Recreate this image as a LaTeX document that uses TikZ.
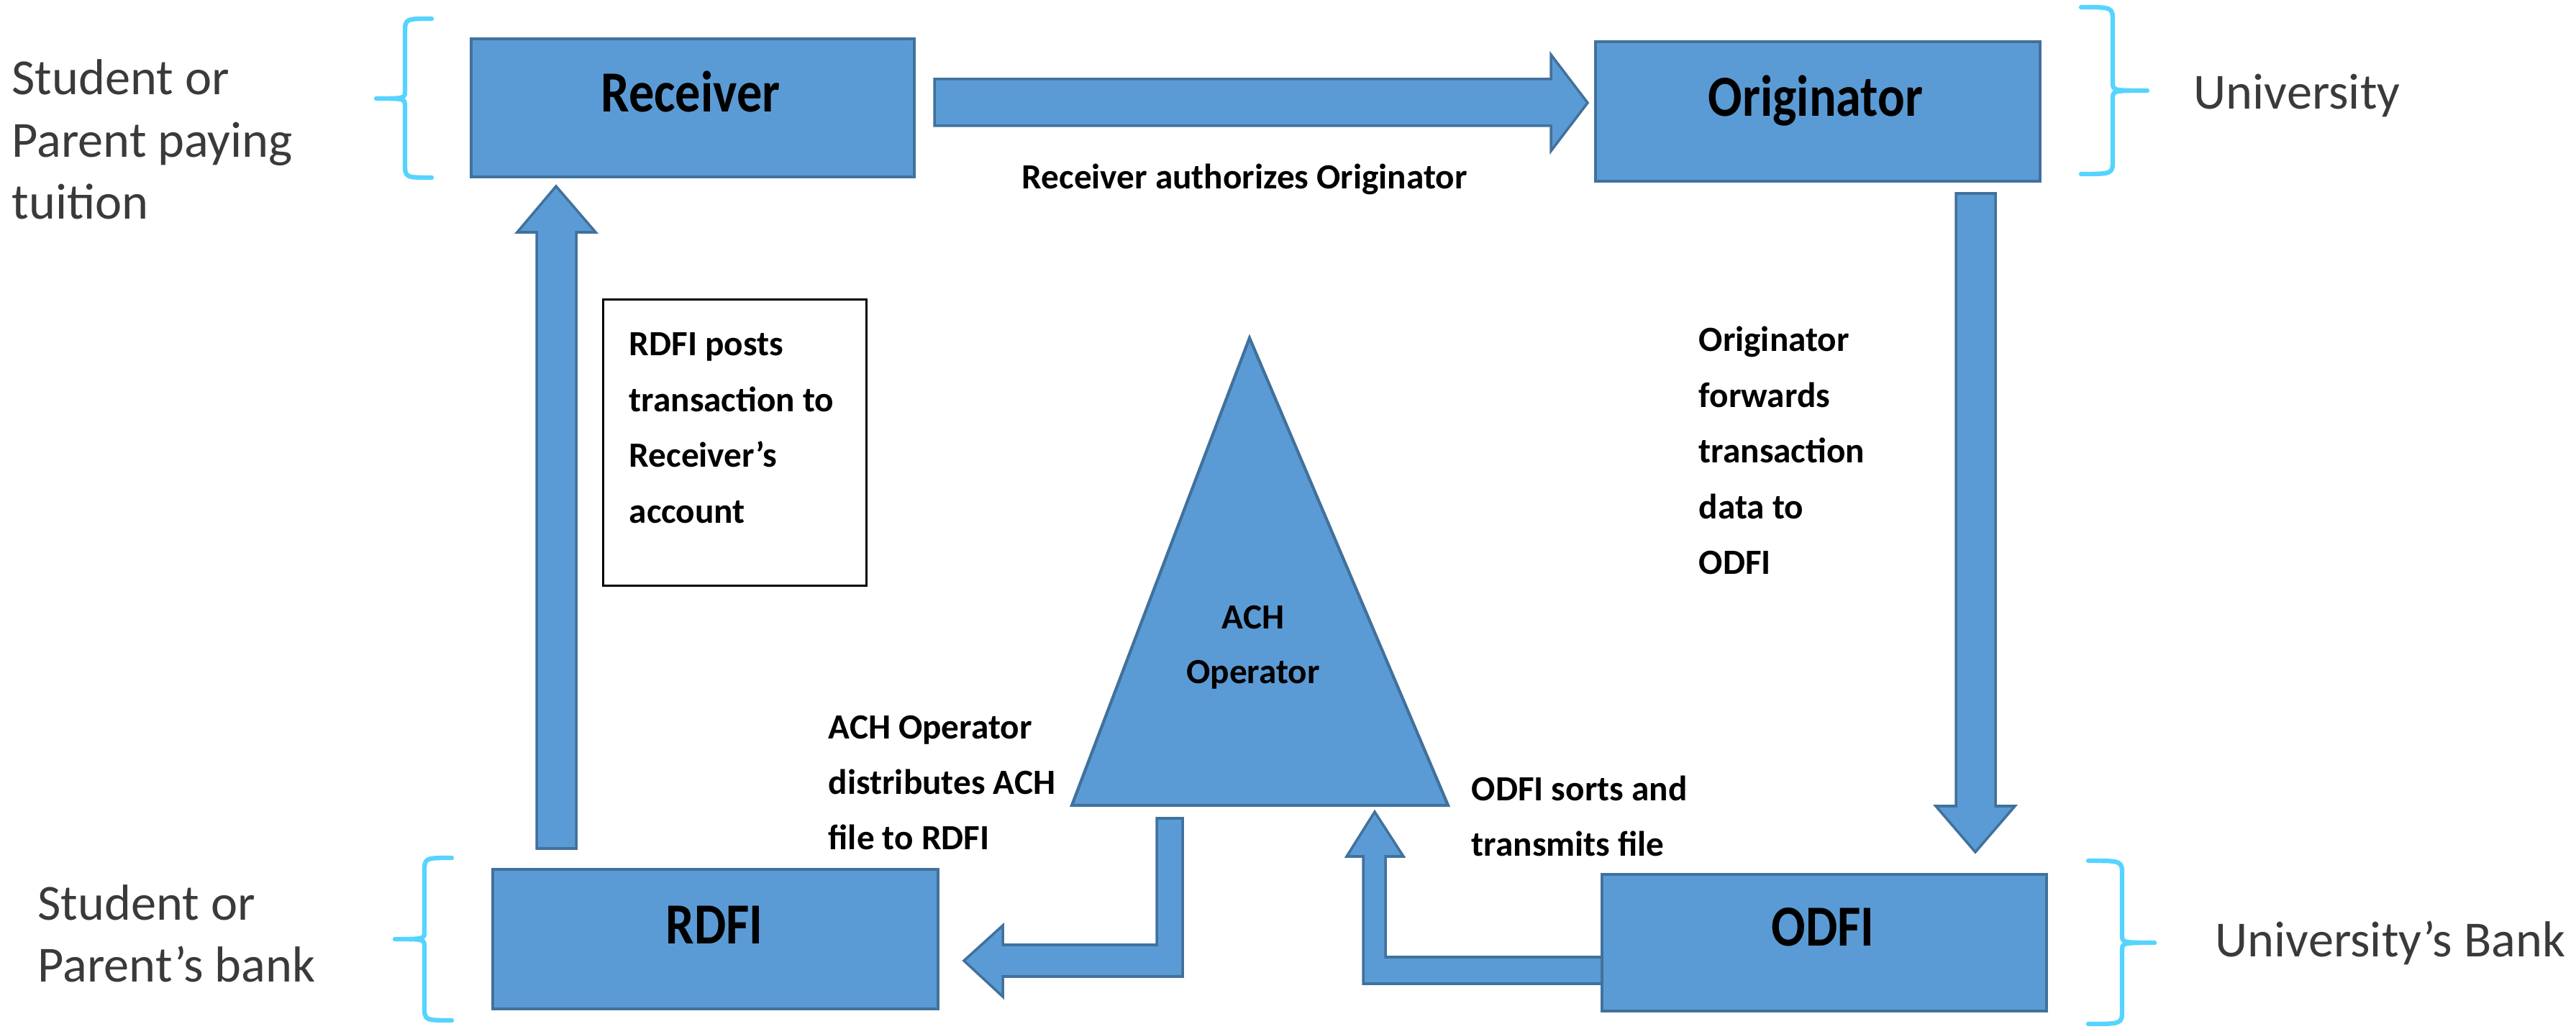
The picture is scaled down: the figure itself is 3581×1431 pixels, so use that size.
\documentclass[tikz,border=0pt]{standalone}
\usepackage{fontspec}
\setmainfont{Carlito}
\definecolor{boxfill}{HTML}{5B9BD5}
\definecolor{boxedge}{HTML}{41719C}
\definecolor{bracec}{HTML}{55D4FF}
\definecolor{sidec}{HTML}{3A3A3A}
\newcommand\mlines[2][l]{\begin{tabular}[t]{@{}#1@{}}#2\end{tabular}}
\begin{document}
\begin{tikzpicture}[x=0.01cm,y=-0.01cm,
  bluebox/.style={draw=boxedge, fill=boxfill, line width=1.2pt, inner sep=0pt},
  blockarrow/.style={draw=boxedge, fill=boxfill, line width=1pt, line join=miter},
  bracestyle/.style={draw=bracec, line width=1.8pt, line cap=round, line join=round},
  sidelbl/.style={font=\fontsize{20pt}{24.5pt}\selectfont, text=sidec, inner sep=0pt, anchor=base west},
  steplbl/.style={font=\fontsize{14pt}{22pt}\selectfont\bfseries, inner sep=0pt, anchor=base west},
  boxlbl/.style={font=\fontsize{20pt}{24pt}\selectfont\bfseries, inner sep=0pt, anchor=base}]
\useasboundingbox (0,0) rectangle (3581,1431);

% block arrows (drawn first, boxes on top)
\draw[blockarrow] (1299,110) -- (2156,110) -- (2156,76) -- (2207,143) -- (2156,210) -- (2156,175) -- (1299,175) -- cycle;
\draw[blockarrow] (2719,269) -- (2774,269) -- (2774,1121) -- (2801,1121) -- (2746,1185) -- (2691,1121) -- (2719,1121) -- cycle;
\draw[blockarrow] (746,1180) -- (746,323) -- (719,323) -- (773,259) -- (828,323) -- (801,323) -- (801,1180) -- cycle;
\draw[blockarrow] (1608,1138) -- (1644,1138) -- (1644,1358) -- (1394,1358) -- (1394,1386) -- (1340,1336) -- (1394,1287) -- (1394,1314) -- (1608,1314) -- cycle;
\draw[blockarrow] (2227,1331) -- (2227,1368) -- (1895,1368) -- (1895,1191) -- (1872,1191) -- (1911,1129) -- (1951,1191) -- (1926,1191) -- (1926,1331) -- cycle;

% triangle
\coordinate (apex) at (1737,470);
\coordinate (bl) at (1490,1120);
\coordinate (br) at (2013,1120);
\draw[bluebox] (apex) -- (br) -- (bl) -- cycle;
\node[font=\fontsize{14pt}{21.6pt}\selectfont\bfseries, inner sep=0pt, anchor=base] (ach) at (1742,875) {\mlines[c]{ACH\\Operator}};

% boxes
\node[bluebox, minimum width=6.16cm, minimum height=1.92cm] (rec) at (963,150) {};
\node[bluebox, minimum width=6.18cm, minimum height=1.94cm] (orig) at (2527,155) {};
\node[bluebox, minimum width=6.19cm, minimum height=1.94cm] (rdfi) at (994.5,1306) {};
\node[bluebox, minimum width=6.18cm, minimum height=1.90cm] (odfi) at (2536,1311) {};
\node[boxlbl] (recl) at (960,156) {\scalebox{1}[1.15]{Receiver}};
\node[boxlbl] (origl) at (2524,162) {\scalebox{1}[1.15]{Originator}};
\node[boxlbl] (rdfil) at (993,1312) {\scalebox{1}[1.15]{RDFI}};
\node[boxlbl] (odfil) at (2534,1315) {\scalebox{1}[1.15]{ODFI}};

% RDFI posts box
\node[draw=black, line width=0.9pt, minimum width=3.65cm, minimum height=3.97cm, inner sep=0pt] (postbox) at (1021.5,615.5) {};
\node[steplbl] (postl) at (874,495) {\mlines{RDFI posts\\transaction to\\Receiver’s\\account}};

% step labels
\node[steplbl] (authl) at (1420,263) {Receiver authorizes Originator};
\node[steplbl] (fwdl) at (2361,489) {\mlines{Originator\\forwards\\transaction\\data to\\ODFI}};
\node[steplbl] (distl) at (1151,1027) {\mlines{ACH Operator\\distributes ACH\\file to RDFI}};
\node[steplbl] (sortl) at (2045,1113) {\mlines{ODFI sorts and\\transmits file}};

% side labels
\node[sidelbl] (s1) at (16,132) {\mlines{Student or\\Parent paying\\tuition}};
\node[sidelbl] (s2) at (3049,152) {University};
\node[sidelbl] (s3) at (52,1279) {\mlines{Student or\\Parent’s bank}};
\node[sidelbl] (s4) at (3079,1330) {University’s Bank};

% braces
\draw[bracestyle] (600,26) .. controls (563,26) .. (563,46) -- (563,126) .. controls (563,137) .. (523,137) .. controls (563,137) .. (563,148) -- (563,227) .. controls (563,247) .. (600,247);
\draw[bracestyle] (628,1193) .. controls (590,1193) .. (590,1213) -- (590,1295) .. controls (590,1306) .. (549,1306) .. controls (590,1306) .. (590,1317) -- (590,1399) .. controls (590,1419) .. (628,1419);
\draw[bracestyle] (2893,10) .. controls (2937,10) .. (2937,30) -- (2937,115) .. controls (2937,126) .. (2985,126) .. controls (2937,126) .. (2937,137) -- (2937,222) .. controls (2937,242) .. (2893,242);
\draw[bracestyle] (2903,1197) .. controls (2950,1197) .. (2950,1217) -- (2950,1300) .. controls (2950,1311) .. (2995,1311) .. controls (2950,1311) .. (2950,1322) -- (2950,1404) .. controls (2950,1424) .. (2903,1424);
\end{tikzpicture}
\end{document}
